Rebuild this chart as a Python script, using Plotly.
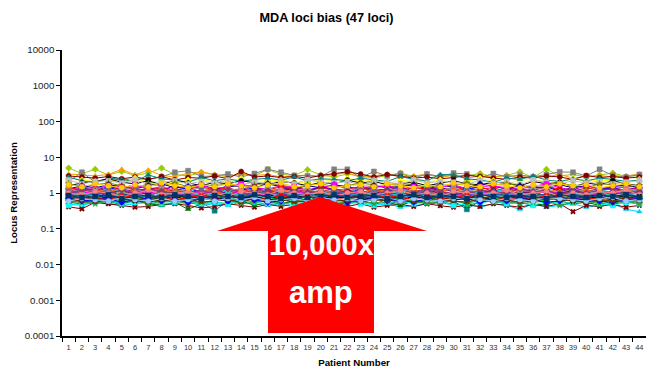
import plotly.graph_objects as go

# ---------------- data ----------------
PATIENTS = [str(i) for i in range(1, 45)]
Y_TICKS = [0.0001, 0.001, 0.01, 0.1, 1, 10, 100, 1000, 10000]
Y_TICK_TEXT = ["0.0001", "0.001", "0.01", "0.1", "1", "10", "100", "1000", "10000"]

L01 = [5.0,3.5,4.6,3.2,4.0,3.1,3.6,5.0,3.3,3.0,3.8, 3.2,2.9,3.5,3.0,4.6,3.3,3.1,4.5,3.2,2.8,3.4, 3.0,2.6,3.1,3.6,2.9,3.3,2.7,3.2,3.0,3.5,2.8, 3.1,3.9,2.7,4.6,3.0,3.3,2.8,3.2,3.6,2.9,3.1]
L02 = [3.4,3.2,3.0,3.3,4.6,3.2,4.4,3.1,2.8,3.6,3.9, 3.3,2.9,3.4,3.1,3.3,2.8,3.0,3.2,2.9,3.3,3.7, 2.7,3.1,3.4,2.8,3.0,3.3,2.9,3.1,2.6,3.0,2.8, 3.2,2.7,3.0,2.8,3.3,2.6,2.9,3.1,2.8,3.0,3.4]
L03 = [2.1,3.8,2.0,2.6,2.3,2.5,2.4,2.8,3.8,4.2,2.9, 3.0,3.4,2.8,3.5,4.6,3.8,3.1,3.0,2.9,4.6,4.6, 2.7,4.0,3.0,3.5,2.6,3.4,2.9,3.6,3.4,2.7,3.5, 2.8,3.2,2.8,3.3,3.9,3.8,3.0,4.6,3.1,2.8,3.3]
L04 = [3.0,2.8,2.6,2.9,2.5,2.8,2.4,2.9,2.3,2.7,2.6, 3.0,2.5,4.0,2.8,3.0,2.7,2.9,2.6,3.1,3.4,3.9, 3.4,2.8,3.3,2.9,2.6,2.8,2.5,2.7,3.1,2.9,2.6, 2.4,2.8,2.6,3.0,2.8,2.4,3.1,2.7,2.9,2.6,2.8]
L05 = [2.5,2.3,2.1,2.4,2.0,2.6,1.9,2.2,1.8,2.3,2.4, 2.0,2.2,2.5,2.1,2.2,2.3,2.0,1.9,2.4,2.2,2.5, 2.1,2.3,1.9,2.2,2.4,2.0,2.3,1.9,2.1,2.6,2.2, 1.8,2.3,2.4,2.0,1.9,2.6,2.1,2.3,2.2,1.9,2.4]
L06 = [2.8,2.2,1.9,2.6,2.4,2.1,3.2,2.5,2.3,2.0,2.7, 2.2,2.5,2.1,2.4,2.6,2.3,2.8,2.2,2.5,2.4,2.2, 2.6,2.3,2.1,2.9,2.4,2.2,3.3,3.2,2.5,2.3,2.0, 2.6,2.4,3.0,2.3,2.1,2.5,2.2,2.6,2.4,2.1,2.3]
L07 = [1.6,1.9,2.1,2.5,2.0,1.8,2.2,1.7,2.3,1.9,1.6, 2.0,1.8,2.2,1.9,1.7,2.1,1.9,1.6,2.0,1.8,2.3, 1.9,2.1,1.7,1.8,2.0,1.6,1.9,2.2,1.8,1.7,2.0, 1.9,1.6,2.1,1.8,2.0,1.5,1.9,1.7,2.2,1.8,1.6]
L08 = [2.3,1.8,2.1,2.2,1.9,2.4,1.7,2.0,2.2,1.8,2.1, 1.9,2.3,1.7,2.0,1.9,2.2,1.8,2.4,2.0,1.9,2.1, 1.7,2.2,2.0,1.8,2.3,1.9,2.1,2.0,1.8,2.2,1.9, 2.1,1.7,2.3,2.0,1.8,2.2,1.9,2.1,1.8,2.0,2.2]
L09 = [1.8,1.5,1.7,1.9,1.6,1.4,1.8,1.6,1.9,1.5,1.7, 1.6,1.8,1.5,1.7,1.9,1.6,1.4,1.7,1.8,1.5,1.6, 1.9,1.7,1.5,1.6,1.8,1.4,1.7,1.6,1.9,1.5,1.7, 1.8,1.6,1.5,1.7,1.9,1.6,1.4,1.8,1.7,1.5,1.6]
L10 = [1.3,1.6,1.4,1.7,1.5,1.3,1.6,1.8,1.4,1.5,1.7, 1.3,1.5,1.6,1.4,1.8,1.5,1.3,1.6,1.4,1.7,1.5, 1.3,1.6,1.4,1.5,1.7,1.3,1.6,1.5,1.4,1.8,1.5, 1.3,1.6,1.4,1.5,1.7,1.4,1.6,1.3,1.5,1.7,1.4]
L11 = [1.2,1.5,1.3,1.6,1.4,1.7,1.3,1.5,1.2,1.4,1.6, 1.3,1.5,1.8,1.4,1.3,1.6,1.5,1.2,1.4,1.7,1.3, 1.5,1.4,1.6,1.3,1.5,1.2,1.4,1.7,1.3,1.5,1.6, 1.4,1.3,1.5,1.8,1.4,1.2,1.6,1.3,1.5,1.4,1.3]
L12 = [1.1,1.4,1.2,1.5,1.3,1.1,1.4,1.2,1.6,1.3,1.1, 1.4,1.2,1.3,1.5,1.1,1.3,1.4,1.2,1.5,1.3,1.1, 1.4,1.3,1.2,1.5,1.1,1.3,1.4,1.2,1.3,1.5,1.1, 1.4,1.2,1.3,1.5,1.2,1.4,1.1,1.3,1.4,1.2,1.5]
L13 = [1.0,1.3,1.1,1.4,1.2,1.0,1.3,1.1,1.2,1.4,1.0, 1.3,1.1,1.2,1.4,1.0,1.2,1.3,1.1,1.5,1.2,1.0, 1.3,1.2,1.1,1.4,1.0,1.2,1.3,1.1,1.4,1.2,1.0, 1.3,1.1,1.2,1.5,1.1,1.3,1.0,1.2,1.4,1.1,1.3]
L14 = [1.4,1.2,1.3,1.1,1.5,1.3,1.2,1.4,1.1,1.3,1.5, 1.2,1.4,1.1,1.3,1.2,1.5,1.3,1.1,1.4,1.2,1.3, 1.5,1.1,1.3,1.2,1.4,1.3,1.1,1.5,1.2,1.3,1.4, 1.1,1.3,1.2,1.5,1.3,1.1,1.4,1.2,1.3,1.1,1.4]
L15 = [0.9,1.2,1.0,1.3,1.1,0.9,1.2,1.0,1.1,1.3,0.9, 1.1,1.2,1.0,0.9,1.3,1.1,1.0,1.2,0.9,1.1,1.3, 1.0,1.1,0.9,1.2,1.0,1.3,1.1,0.9,1.2,1.0,1.1, 1.3,0.9,1.1,1.2,1.0,1.1,0.9,1.3,1.0,1.2,1.1]
L16 = [1.1,0.9,1.0,1.2,0.8,1.0,1.1,0.9,1.2,1.0,0.8, 1.1,0.9,1.0,1.2,0.9,1.1,0.8,1.0,1.2,0.9,1.0, 1.1,0.8,1.0,0.9,1.2,1.0,0.9,1.1,0.8,1.0,1.2, 0.9,1.1,1.0,0.8,1.1,0.9,1.2,1.0,0.9,1.1,1.0]
L17 = [1.3,1.1,1.2,1.0,1.4,1.2,1.1,1.3,1.0,1.2,1.4, 1.1,1.3,1.2,1.0,1.4,1.1,1.2,1.3,1.0,1.2,1.1, 1.4,1.0,1.2,1.3,1.1,1.0,1.2,1.4,1.1,1.3,1.0, 1.2,1.1,1.4,1.2,1.0,1.3,1.1,1.2,1.0,1.3,1.2]
L18 = [0.9,1.0,1.1,0.8,1.0,1.2,0.9,1.1,0.8,1.0,0.9, 1.2,1.0,0.8,1.1,0.9,1.0,1.2,0.8,1.0,1.1,0.9, 1.0,0.8,1.2,1.0,0.9,1.1,1.0,0.8,1.1,0.9,1.2, 1.0,0.8,1.0,1.1,0.9,1.2,1.0,0.8,1.1,0.9,1.0]
L19 = [0.8,1.0,0.9,0.7,1.0,0.8,0.9,1.1,0.8,0.9,1.0, 0.7,0.9,1.0,0.8,1.1,0.9,0.7,1.0,0.8,0.9,1.1, 0.8,0.9,0.7,1.0,0.9,0.8,1.1,0.9,0.7,1.0,0.8, 0.9,1.1,0.8,0.7,1.0,0.9,0.8,1.0,0.7,0.9,0.8]
L20 = [1.0,0.8,0.9,1.1,0.8,0.9,0.7,1.0,0.9,0.8,1.1, 0.9,0.8,1.0,0.7,0.9,1.1,0.8,0.9,1.0,0.8,0.7, 1.0,0.9,1.1,0.8,0.9,0.7,1.0,0.8,0.9,1.1,0.8, 1.0,0.9,0.7,0.9,1.1,0.8,1.0,0.9,0.8,0.7,0.9]
L21 = [0.7,0.8,0.9,0.7,0.8,0.6,0.9,0.8,0.7,0.9,0.8, 0.6,0.8,0.9,0.7,0.8,0.6,0.9,0.8,0.7,0.8,0.9, 0.7,0.6,0.8,0.9,0.7,0.8,0.6,0.9,0.8,0.7,0.8, 0.9,0.6,0.8,0.7,0.9,0.8,0.7,0.6,0.8,0.9,0.7]
L22 = [1.2,1.0,1.1,1.3,1.0,1.2,0.9,1.1,1.3,1.0,1.2, 1.1,0.9,1.2,1.0,1.1,1.3,1.0,1.2,0.9,1.1,1.2, 1.0,1.3,1.1,0.9,1.2,1.0,1.1,1.3,1.0,1.2,0.9, 1.1,1.2,1.0,1.3,1.1,0.9,1.2,1.0,1.1,1.3,1.0]
L23 = [0.9,0.7,0.8,0.6,0.8,0.7,0.9,0.8,0.6,0.8,0.7, 0.9,0.7,0.8,0.6,0.9,0.8,0.7,0.8,0.6,0.9,0.7, 0.8,0.7,0.9,0.6,0.8,0.7,0.8,0.9,0.6,0.8,0.7, 0.8,0.9,0.7,0.6,0.8,0.7,0.9,0.8,0.6,0.8,0.7]
L24 = [0.8,0.7,0.75,0.9,0.7,0.8,0.65,0.75,0.9,0.7,0.8, 0.75,0.65,0.8,0.7,0.9,0.75,0.7,0.8,0.65,0.75,0.9, 0.7,0.8,0.75,0.65,0.8,0.7,0.9,0.75,0.7,0.8,0.65, 0.75,0.9,0.7,0.8,0.75,0.65,0.8,0.7,0.9,0.75,0.7]
L25 = [1.0,1.1,0.9,1.0,1.2,0.9,1.0,1.1,0.8,1.0,1.2, 0.9,1.1,1.0,0.9,1.2,1.0,0.8,1.1,1.0,0.9,1.2, 1.0,1.1,0.9,1.0,0.8,1.2,1.0,0.9,1.1,1.0,1.2, 0.9,1.0,1.1,0.8,1.0,1.2,0.9,1.1,1.0,0.9,1.1]
L26 = [0.9,1.0,1.1,0.9,0.8,1.0,1.1,0.9,1.0,0.8,1.1, 1.0,0.9,1.1,0.8,1.0,0.9,1.1,1.0,0.8,0.9,1.0, 1.1,0.9,1.0,0.8,1.1,0.9,1.0,1.0,0.8,1.1,0.9, 1.0,0.8,0.9,1.1,1.0,0.9,0.8,1.0,1.1,0.9,1.0]
L27 = [1.1,0.9,1.0,1.2,0.9,1.0,0.8,1.1,1.0,0.9,1.2, 1.0,0.8,0.9,1.1,1.0,1.2,0.9,1.0,0.8,1.1,1.0, 0.9,1.2,1.0,0.8,1.0,1.1,0.9,1.0,1.2,0.8,1.0, 1.1,0.9,1.0,1.2,0.9,1.0,0.8,1.1,0.9,1.0,1.2]
L28 = [0.8,0.9,0.7,0.85,0.95,0.8,0.7,0.9,0.85,0.75,0.9, 0.8,0.95,0.7,0.85,0.8,0.9,0.75,0.85,0.95,0.7,0.8, 0.9,0.85,0.7,0.8,0.95,0.85,0.75,0.9,0.8,0.7,0.85, 0.9,0.75,0.8,0.95,0.7,0.85,0.8,0.9,0.75,0.85,0.8]
L29 = [0.7,0.6,0.8,0.7,0.6,0.75,0.65,0.8,0.7,0.6,0.75, 0.7,0.8,0.6,0.7,0.65,0.75,0.6,0.8,0.7,0.65,0.7, 0.6,0.75,0.8,0.7,0.6,0.65,0.75,0.7,0.8,0.6,0.7, 0.65,0.75,0.7,0.6,0.8,0.7,0.65,0.75,0.6,0.7,0.8]
L30 = [0.8,1.0,0.9,0.8,1.0,0.9,0.7,1.0,0.9,1.1,0.8, 0.9,1.0,0.8,0.9,0.7,1.0,0.9,0.8,1.1,0.9,0.8, 1.0,0.9,0.8,1.0,0.7,0.9,1.0,0.8,0.9,1.1,0.8, 0.9,1.0,0.8,0.9,0.7,1.0,0.9,1.1,0.8,0.9,1.0]
L31 = [1.0,1.2,1.1,0.9,1.2,1.0,1.3,1.1,1.0,1.2,0.9, 1.1,1.3,1.0,1.2,1.1,0.9,1.2,1.0,1.1,1.3,1.0, 1.2,0.9,1.1,1.2,1.0,1.3,1.1,1.0,0.9,1.2,1.1, 1.0,1.3,1.1,1.2,0.9,1.1,1.0,1.2,1.3,1.0,1.1]
L32 = [0.9,0.8,0.95,0.75,0.85,0.9,0.8,0.7,0.9,0.85,0.8, 0.95,0.75,0.85,0.9,0.8,0.7,0.85,0.95,0.8,0.75,0.9, 0.85,0.8,0.95,0.7,0.85,0.9,0.8,0.75,0.9,0.85,0.95, 0.8,0.7,0.85,0.9,0.8,0.95,0.75,0.85,0.8,0.9,0.85]
L33 = [1.0,0.9,1.1,1.0,0.8,1.0,1.2,0.9,1.0,1.1,0.9, 1.0,0.8,1.1,1.0,0.9,1.2,1.0,0.9,1.1,0.8,1.0, 1.1,0.9,1.0,1.2,0.9,1.0,0.8,1.1,1.0,0.9,1.0, 1.2,0.9,1.0,1.1,0.8,1.0,0.9,1.1,1.0,1.2,0.9]
L34 = [0.6,0.55,0.65,0.6,0.5,0.65,0.6,0.55,0.7,0.6,0.5, 0.65,0.6,0.55,0.6,0.7,0.5,0.6,0.65,0.55,0.6,0.5, 0.65,0.6,0.7,0.55,0.6,0.5,0.65,0.6,0.55,0.7,0.6, 0.5,0.6,0.65,0.55,0.6,0.7,0.5,0.6,0.65,0.55,0.6]
L35 = [0.7,0.6,0.65,0.55,0.6,0.7,0.55,0.6,0.65,0.6,0.55, 0.32,0.6,0.65,0.55,0.6,0.7,0.55,0.6,0.5,0.65,0.6, 0.55,0.7,0.6,0.5,0.6,0.65,0.55,0.6,0.35,0.6,0.65, 0.55,0.6,0.7,0.5,0.6,0.65,0.55,0.6,0.5,0.65,0.6]
L36 = [0.5,0.45,0.55,0.5,0.45,0.5,0.55,0.45,0.5,0.55,0.45, 0.5,0.45,0.55,0.5,0.45,0.5,0.4,0.55,0.5,0.45,0.5, 0.55,0.45,0.5,0.4,0.45,0.5,0.55,0.45,0.5,0.4,0.5, 0.45,0.35,0.5,0.4,0.45,0.5,0.4,0.45,0.5,0.35,0.3]
L37 = [0.41,0.36,0.55,0.5,0.45,0.4,0.42,0.48,0.5,0.45,0.38, 0.42,0.5,0.45,0.4,0.48,0.42,0.5,0.45,0.4,0.46,0.42, 0.5,0.4,0.45,0.48,0.42,0.5,0.44,0.4,0.46,0.42,0.5, 0.45,0.4,0.48,0.42,0.5,0.3,0.45,0.42,0.48,0.4,0.45]
L38 = [0.55,0.5,0.6,0.55,0.5,0.6,0.5,0.45,0.55,0.35,0.5, 0.55,0.5,0.6,0.45,0.55,0.5,0.6,0.55,0.5,0.45,0.55, 0.6,0.5,0.55,0.45,0.6,0.5,0.55,0.5,0.45,0.55,0.6, 0.5,0.55,0.45,0.5,0.6,0.5,0.55,0.45,0.5,0.55,0.5]
L39 = [0.45,0.5,0.55,0.6,0.5,0.55,0.6,0.5,0.55,0.6,0.5, 0.55,0.5,0.6,0.55,0.5,0.55,0.45,0.6,0.5,0.55,0.6, 0.5,0.45,0.55,0.6,0.5,0.55,0.6,0.45,0.5,0.55,0.6, 0.5,0.55,0.45,0.6,0.5,0.55,0.6,0.5,0.45,0.55,0.5]
L40 = [0.6,0.55,0.5,0.6,0.55,0.65,0.5,0.55,0.6,0.5,0.55, 0.6,0.65,0.5,0.55,0.6,0.5,0.55,0.65,0.6,0.5,0.55, 0.6,0.5,0.65,0.55,0.6,0.5,0.55,0.6,0.5,0.65,0.55, 0.6,0.5,0.55,0.6,0.45,0.55,0.6,0.5,0.55,0.6,0.5]
L41 = [0.7,0.75,0.65,0.8,0.7,0.6,0.75,0.7,0.8,0.65,0.7, 0.75,0.6,0.7,0.8,0.65,0.7,0.75,0.6,0.7,0.8,0.7, 0.65,0.75,0.7,0.6,0.8,0.7,0.75,0.65,0.7,0.8,0.6, 0.7,0.75,0.65,0.7,0.8,0.6,0.7,0.75,0.65,0.7,0.8]
L42 = [0.8,0.7,0.75,0.65,0.85,0.75,0.7,0.8,0.65,0.75,0.85, 0.7,0.8,0.75,0.65,0.7,0.85,0.75,0.8,0.7,0.65,0.75, 0.8,0.7,0.85,0.75,0.65,0.8,0.7,0.75,0.85,0.7,0.8, 0.65,0.75,0.7,0.85,0.8,0.7,0.75,0.65,0.8,0.7,0.75]
L43 = [0.7,0.6,0.65,0.7,0.55,0.65,0.7,0.6,0.65,0.55,0.7, 0.65,0.6,0.7,0.65,0.55,0.6,0.7,0.65,0.6,0.7,0.55, 0.65,0.7,0.6,0.65,0.55,0.7,0.6,0.65,0.7,0.55,0.65, 0.6,0.7,0.65,0.55,0.6,0.7,0.65,0.6,0.55,0.65,0.7]
L44 = [1.7,1.5,1.8,1.6,1.4,1.7,1.5,1.9,1.6,1.4,1.7, 1.5,1.8,1.6,1.4,1.7,1.9,1.5,1.6,1.8,1.4,1.6, 1.7,1.5,1.8,1.6,1.4,1.7,1.5,1.9,1.6,1.5,1.8, 1.6,1.4,1.7,1.5,1.8,1.6,1.7,1.4,1.6,1.8,1.5]
L45 = [0.65,0.6,0.55,0.65,0.7,0.6,0.55,0.65,0.6,0.7,0.55, 0.6,0.65,0.55,0.7,0.6,0.65,0.55,0.6,0.7,0.65,0.6, 0.55,0.65,0.6,0.7,0.55,0.6,0.65,0.6,0.55,0.7,0.6, 0.65,0.55,0.6,0.7,0.65,0.6,0.55,0.65,0.6,0.7,0.6]
L46 = [0.6,0.7,0.65,0.6,0.75,0.65,0.6,0.7,0.6,0.65,0.75, 0.6,0.7,0.65,0.75,0.6,0.65,0.7,0.6,0.75,0.65,0.7, 0.6,0.65,0.75,0.6,0.7,0.65,0.6,0.7,0.75,0.65,0.6, 0.7,0.65,0.6,0.75,0.7,0.65,0.6,0.7,0.75,0.6,0.65]
L47 = [0.85,0.75,0.8,0.9,0.7,0.8,0.85,0.75,0.9,0.8,0.7, 0.85,0.8,0.75,0.9,0.8,0.7,0.85,0.75,0.8,0.9,0.75, 0.8,0.85,0.7,0.8,0.9,0.75,0.85,0.8,0.7,0.9,0.8, 0.75,0.85,0.8,0.7,0.9,0.8,0.75,0.85,0.8,0.9,0.75]

LOCI = [L01, L02, L03, L04, L05, L06, L07, L08, L09, L10, L11, L12, L13, L14, L15, L16,
        L17, L18, L19, L20, L21, L22, L23, L24, L25, L26, L27, L28, L29, L30, L31, L32,
        L33, L34, L35, L36, L37, L38, L39, L40, L41, L42, L43, L44, L45, L46, L47]

# ---------------- styles ----------------
COLORS = ["#99CC00", "#FF9900", "#808080", "#800000", "#FFFF00", "#008080", "#000000", "#C0C0C0",
          "#808000", "#000080", "#FF00FF", "#800080", "#0000FF", "#FF0000", "#00FFFF", "#006600",
          "#969696", "#333399", "#993300", "#339966", "#00CCFF", "#FF6600", "#008000", "#000080",
          "#800080", "#FF00FF", "#666699", "#003300", "#00FF00", "#33CCCC", "#993366", "#0066CC",
          "#FF8080", "#808000", "#008080", "#00CCFF", "#800000", "#006600", "#00FFFF", "#339933",
          "#000000", "#FF0000", "#0000FF", "#FFCC00", "#663300", "#99CCFF", "#003366"]
SYMBOLS = ["diamond", "triangle-up", "square", "circle", "diamond", "triangle-up", "circle", "square",
           "star", "diamond", "square", "x", "triangle-up", "circle", "square", "circle",
           "square", "diamond", "square", "triangle-up", "square", "triangle-up", "circle", "circle",
           "triangle-up", "triangle-up", "x", "triangle-up", "diamond", "square", "diamond", "circle",
           "circle", "triangle-up", "square", "triangle-up", "x", "triangle-up", "square", "star",
           "x", "x", "diamond", "circle", "triangle-up", "circle", "square"]

FONT = "Arial, Liberation Sans, sans-serif"

fig = go.Figure()
for i, vals in enumerate(LOCI):
    fig.add_trace(go.Scatter(
        x=PATIENTS, y=vals, mode="lines+markers",
        line=dict(color=COLORS[i], width=1),
        marker=dict(symbol=SYMBOLS[i], size=5, color=COLORS[i],
                    line=dict(width=0.5 if SYMBOLS[i] != "x" else 0, color=COLORS[i])),
        name="Locus %d" % (i + 1), showlegend=False))

# plot area in pixels
W, H = 646, 368
ML, MR, MT, MB = 62, 0, 50, 32
PW, PH = W - ML - MR, H - MT - MB


def px(x):
    return (x - ML) / PW


def py(y):
    return (H - MB - y) / PH


arrow_pts = [(217, 231), (320, 197), (427, 231), (374, 231), (374, 333), (268, 333), (268, 231)]
path = "M " + " L ".join("%.4f,%.4f" % (px(a), py(b)) for a, b in arrow_pts) + " Z"

fig.add_shape(type="path", path=path, xref="paper", yref="paper",
              fillcolor="#FF0000", line=dict(width=0), layer="above")

ARROW_FONT = "Liberation Sans, Arial, sans-serif"
fig.add_annotation(text="<b>10,000x</b>", x=px(321), y=py(245), xref="paper", yref="paper",
                   showarrow=False, xanchor="center", yanchor="middle",
                   font=dict(family=ARROW_FONT, size=29, color="white"))
fig.add_annotation(text="<b>amp</b>", x=px(321), y=py(292), xref="paper", yref="paper",
                   showarrow=False, xanchor="center", yanchor="middle",
                   font=dict(family=ARROW_FONT, size=31, color="white"))

fig.update_layout(
    width=W, height=H,
    margin=dict(l=ML, r=MR, t=MT, b=MB, pad=0),
    paper_bgcolor="white", plot_bgcolor="white",
    font=dict(family=FONT, color="#000000"),
    title=dict(text="<b>MDA loci bias (47 loci)</b>", x=326.5 / W, xanchor="center",
               y=1 - 18 / H, yanchor="middle", yref="container",
               font=dict(size=12.7, family=FONT, color="#000000")),
    showlegend=False,
)

fig.update_xaxes(
    type="category", categoryorder="array", categoryarray=PATIENTS,
    range=[-0.5, 43.5], tickson="boundaries", ticks="outside", ticklen=4,
    tickwidth=1, tickcolor="#000000", tickangle=0, ticklabelstandoff=3,
    showline=True, linecolor="#000000", linewidth=1.5, showgrid=False, zeroline=False,
    tickfont=dict(size=7.5, family=FONT, color="#333333"),
    title=dict(text="<b>Patient Number</b>", font=dict(size=9.7, family=FONT), standoff=9),
)
fig.update_yaxes(
    type="log", range=[-4, 4], tickvals=Y_TICKS, ticktext=Y_TICK_TEXT,
    ticks="outside", ticklen=4, tickwidth=1, tickcolor="#000000",
    showline=True, linecolor="#000000", linewidth=1.5, showgrid=False, zeroline=False,
    tickfont=dict(size=9.7, family=FONT, color="#222222"),
    title=dict(text="<b>Locus Representation</b>", font=dict(size=9.7, family=FONT), standoff=5),
)

fig.write_html("out.html")
